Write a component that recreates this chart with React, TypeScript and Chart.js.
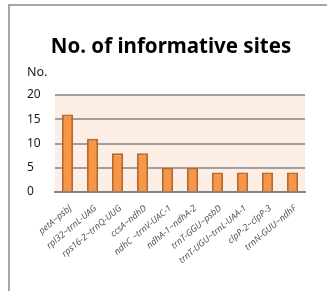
import React, { useEffect, useRef } from 'react';
import { Chart, registerables } from 'chart.js';

Chart.register(...registerables);

const categories = [
  'petA~psbJ',
  'rpl32~trnL-UAG',
  'rps16-2~trnQ-UUG',
  'ccsA~ndhD',
  'ndhC ~trnV-UAC-1',
  'ndhA-1~ndhA-2',
  'trnT-GGU~psbD',
  'trnT-UGU~trnL-UAA-1',
  'clpP-2~clpP-3',
  'trnN-GUU~ndhF',
];
const values = [16, 11, 8, 8, 5, 5, 4, 4, 4, 4];
const yMin = 0;
const yMax = 20;
const yStep = 5;
const titleText = 'No. of informative sites';
const yUnitText = 'No.';

const decorPlugin = {
  id: 'decor',
  beforeDraw(chart: any) {
    const { ctx, chartArea } = chart;
    ctx.save();
    ctx.fillStyle = '#fdeee5';
    ctx.fillRect(chartArea.left, chartArea.top, chartArea.right - chartArea.left, chartArea.bottom - chartArea.top);
    ctx.restore();
  },
  afterDraw(chart: any) {
    const { ctx } = chart;
    ctx.save();
    ctx.fillStyle = '#000000';
    ctx.font = 'bold 20.5px "Noto Sans"';
    ctx.textAlign = 'center';
    ctx.textBaseline = 'middle';
    ctx.fillText(titleText, 171, 47);
    ctx.fillStyle = '#1a1a1a';
    ctx.font = '12.5px "Noto Sans"';
    ctx.textAlign = 'left';
    ctx.fillText(yUnitText, 27, 72);
    ctx.restore();
  },
};

export default function App() {
  const ref = useRef<HTMLCanvasElement | null>(null);
  useEffect(() => {
    if (!ref.current) return;
    const chart = new Chart(ref.current, {
      type: 'bar',
      data: {
        labels: categories,
        datasets: [
          {
            data: values,
            backgroundColor: '#f79646',
            borderColor: '#b8692c',
            borderWidth: 2,
            barPercentage: 0.45,
            categoryPercentage: 1,
          },
        ],
      },
      options: {
        responsive: false,
        animation: false,
        layout: { padding: { left: 27, top: 95, right: 22, bottom: 0 } },
        plugins: {
          legend: { display: false },
          title: { display: false },
          tooltip: { enabled: false },
        },
        scales: {
          x: {
            grid: { display: false, drawTicks: false },
            border: { display: true, color: '#858585', width: 2 },
            ticks: {
              autoSkip: false,
              maxRotation: 40,
              minRotation: 40,
              padding: 11,
              labelOffset: 3,
              color: '#595959',
              font: { family: '"Noto Sans"', size: 9, style: 'italic' },
            },
            afterFit: (scale: any) => {
              scale.height = 99;
            },
          },
          y: {
            min: yMin,
            max: yMax,
            grid: { color: '#a0a0a0', lineWidth: 2, drawTicks: false },
            border: { display: false },
            ticks: {
              stepSize: yStep,
              crossAlign: 'far',
              color: '#1a1a1a',
              font: { family: '"Noto Sans"', size: 12 },
            },
            afterFit: (scale: any) => {
              scale.width = 28;
            },
          },
        },
      },
      plugins: [decorPlugin],
    });
    return () => chart.destroy();
  }, []);

  return (
    <div style={{ position: 'fixed', left: 0, top: 0, width: 327, height: 291, overflow: 'hidden', background: '#fff' }}>
      <div
        style={{
          position: 'absolute',
          left: 8,
          top: 4,
          width: 400,
          height: 400,
          borderTop: '2px solid #a6a6a6',
          borderLeft: '2px solid #a6a6a6',
        }}
      />
      <canvas ref={ref} width={327} height={291} style={{ position: 'absolute', left: 0, top: 0 }} />
    </div>
  );
}
